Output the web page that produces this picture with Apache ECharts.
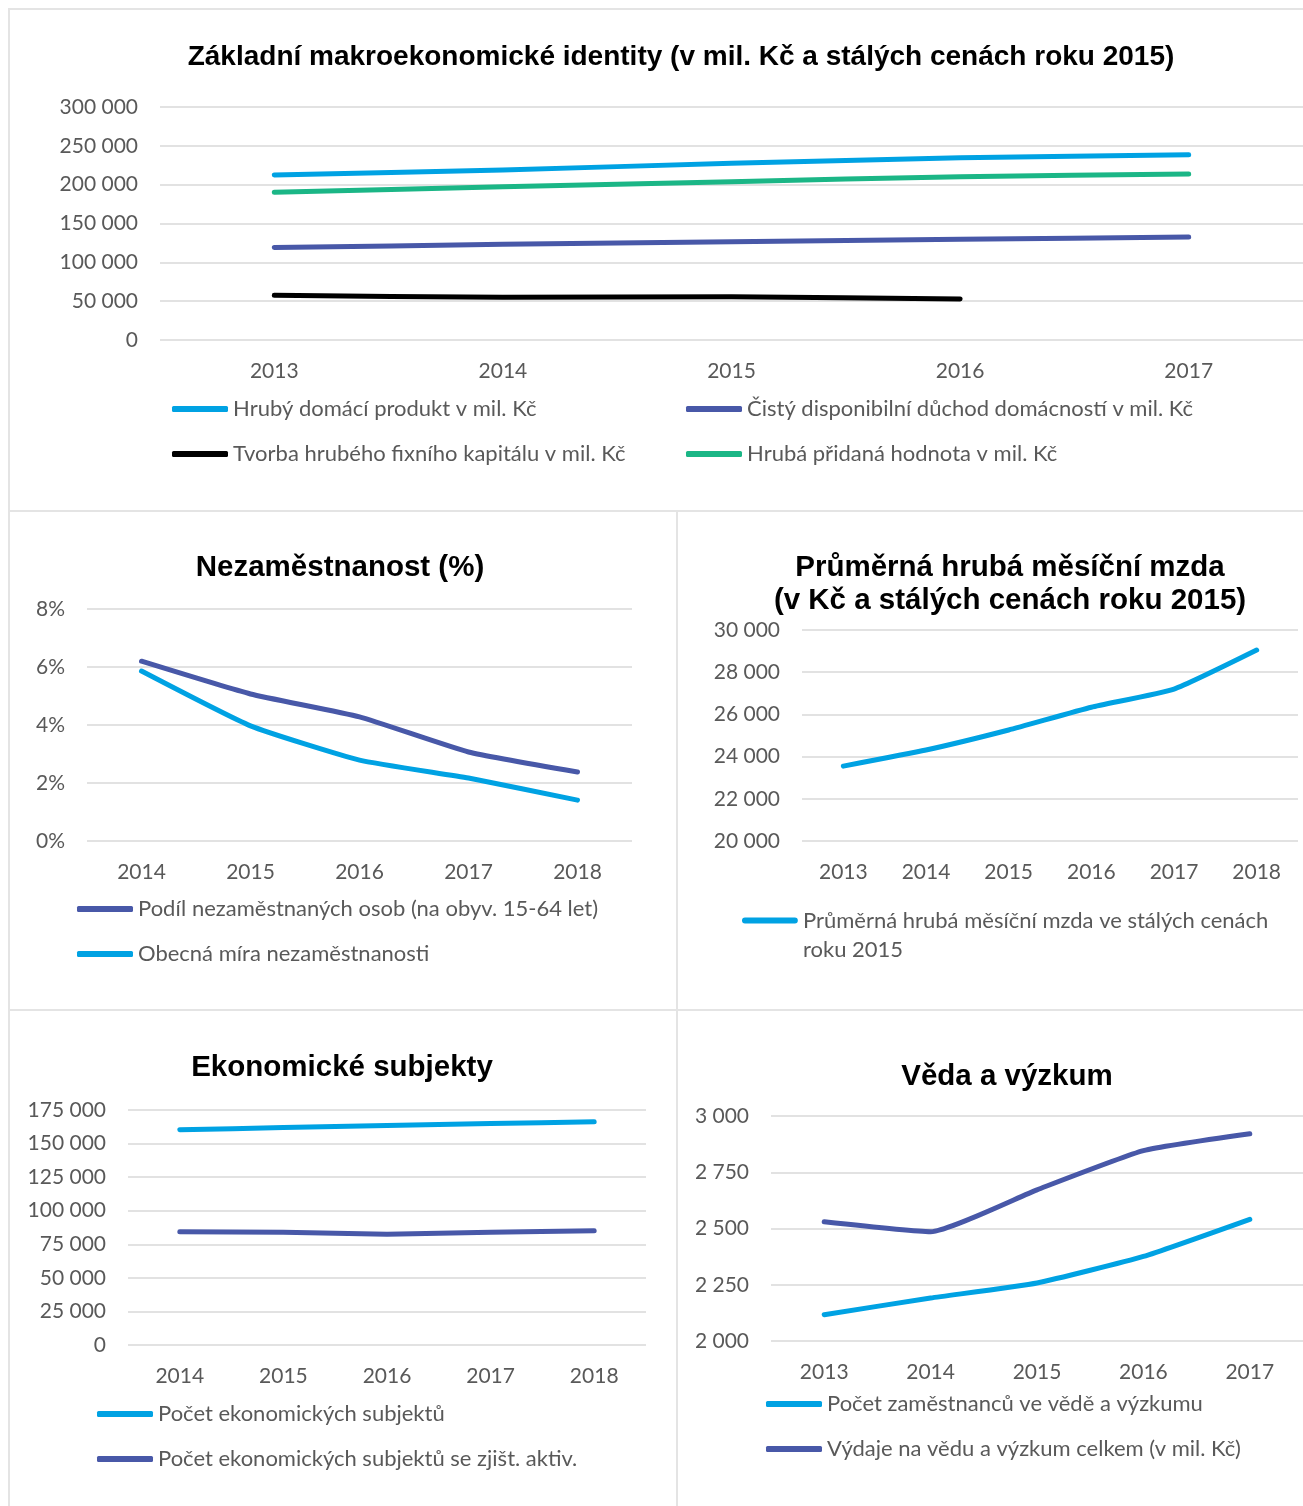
<!DOCTYPE html>
<html>
<head>
<meta charset="utf-8">
<script src="https://cdn.jsdelivr.net/npm/echarts@6/dist/echarts.min.js"></script>
<style>
  html, body { margin: 0; padding: 0; background: #fff; }
  #page { width: 1303px; height: 1506px; }
</style>
</head>
<body>
<div id="page"></div>
<script>
// --- data ---
const years1317 = ['2013', '2014', '2015', '2016', '2017'];
const years1418 = ['2014', '2015', '2016', '2017', '2018'];
const years1318 = ['2013', '2014', '2015', '2016', '2017', '2018'];

// Základní makroekonomické identity
const hdp = [212500, 219000, 227500, 234700, 238600];
const cistyDuchod = [119000, 123200, 126600, 129600, 132600];
const tvorbaKapitalu = [57500, 55000, 55800, 52800];
const pridanaHodnota = [190100, 197400, 203900, 210300, 213700];

// Nezaměstnanost (%)
const podilNezam = [6.2, 5.07, 4.28, 3.07, 2.38];
const obecnaMira = [5.86, 3.97, 2.79, 2.17, 1.41];

// Průměrná hrubá měsíční mzda
const mzda = [23550, 24310, 25260, 26340, 27200, 29050];

// Ekonomické subjekty
const pocetSubjektu = [160300, 161900, 163400, 164900, 166300];
const pocetAktivnich = [84400, 84000, 82500, 84000, 85100];

// Věda a výzkum
const zamestnanciVaV = [2117, 2191, 2258, 2376, 2541];
const vydajeVaV = [2530, 2486, 2672, 2846, 2921];

const LIGHT = '#00A2E3';
const PURPLE = '#4858A8';
const GREEN = '#1BB686';
const BLACK = '#000000';
const GREY = '#595959';
const FONT = 'Lato';

// thick line with rounded ends at the top of a taller box (for the 2-line legend)
const TOP_BAR_ICON = 'path://M3 0 H53 A3 3 0 0 1 53 6 H3 A3 3 0 0 1 3 0 Z M0 35 h0.1 v0.1 h-0.1 Z';

function fmt (v) {
    return String(v).replace(/\B(?=(\d{3})+(?!\d))/g, ' ');
}

function title (text, x, y, size) {
    return {
        text: text,
        left: x,
        top: y,
        textAlign: 'center',
        textStyle: {
            fontFamily: 'Liberation Sans',
            fontWeight: 'bold',
            fontSize: size,
            color: '#000',
            lineHeight: 33
        }
    };
}

function legend (name, x, y, extra) {
    return Object.assign({
        data: [name],
        left: x,
        top: y,
        icon: 'roundRect',
        itemWidth: 56,
        itemHeight: 6,
        itemGap: 0,
        selectedMode: false,
        textStyle: { fontFamily: FONT, fontSize: 22, color: GREY }
    }, extra || {});
}

function xAxis (idx, cats) {
    return {
        type: 'category',
        gridIndex: idx,
        data: cats,
        boundaryGap: true,
        axisLine: { show: false },
        axisTick: { show: false },
        axisLabel: { fontFamily: FONT, fontSize: 21, color: GREY, margin: 21 }
    };
}

function yAxis (idx, min, max, interval, formatter) {
    return {
        type: 'value',
        gridIndex: idx,
        min: min,
        max: max,
        interval: interval,
        axisLine: { show: false },
        axisTick: { show: false },
        splitLine: { lineStyle: { color: '#d9d9d9', width: 1.5 } },
        axisLabel: { fontFamily: FONT, fontSize: 21, color: GREY, margin: 22, formatter: formatter || fmt }
    };
}

function line (name, idx, data, color) {
    return {
        name: name,
        type: 'line',
        xAxisIndex: idx,
        yAxisIndex: idx,
        data: data,
        color: color,
        symbol: 'none',
        smooth: 0.15,
        lineStyle: { width: 5, color: color, cap: 'round', join: 'round' }
    };
}

const borderStyle = { stroke: '#e4e4e4', lineWidth: 2 };
function hline (x1, x2, y) {
    return { type: 'line', shape: { x1: x1, y1: y, x2: x2, y2: y }, style: borderStyle, silent: true };
}
function vline (x, y1, y2) {
    return { type: 'line', shape: { x1: x, y1: y1, x2: x, y2: y2 }, style: borderStyle, silent: true };
}

const chart = echarts.init(document.getElementById('page'));

const option = {
    animation: false,
    backgroundColor: '#fff',
    title: [
        title('Základní makroekonomické identity (v mil. Kč a stálých cenách roku 2015)', 676, 36, 28),
        title('Nezaměstnanost (%)', 335, 546, 29.5),
        title('Průměrná hrubá měsíční mzda\n(v Kč a stálých cenách roku 2015)', 1005, 546, 29.5),
        title('Ekonomické subjekty', 337, 1046, 29.5),
        title('Věda a výzkum', 1002, 1055, 29.5)
    ],
    legend: [
        legend('Hrubý domácí produkt v mil. Kč', 167, 393),
        legend('Tvorba hrubého fixního kapitálu v mil. Kč', 167, 438),
        legend('Čistý disponibilní důchod domácností v mil. Kč', 681, 393),
        legend('Hrubá přidaná hodnota v mil. Kč', 681, 438),
        legend('Podíl nezaměstnaných osob (na obyv. 15-64 let)', 72, 893),
        legend('Obecná míra nezaměstnanosti', 72, 938),
        legend('Průměrná hrubá měsíční mzda ve stálých cenách roku 2015', 737, 901, {
            icon: TOP_BAR_ICON,
            itemHeight: 35,
            formatter: function () { return 'Průměrná hrubá měsíční mzda ve stálých cenách\nroku 2015'; },
            textStyle: { fontFamily: FONT, fontSize: 22, color: GREY, lineHeight: 29 }
        }),
        legend('Počet ekonomických subjektů', 92, 1398),
        legend('Počet ekonomických subjektů se zjišt. aktiv.', 92, 1443),
        legend('Počet zaměstnanců ve vědě a výzkumu', 761, 1388),
        legend('Výdaje na vědu a výzkum celkem (v mil. Kč)', 761, 1433)
    ],
    grid: [
        { left: 160, top: 107, width: 1143, height: 233 },
        { left: 87, top: 609, width: 545, height: 232 },
        { left: 802, top: 630, width: 496, height: 211 },
        { left: 128, top: 1110, width: 518, height: 235 },
        { left: 771, top: 1116, width: 542, height: 225 }
    ],
    xAxis: [
        xAxis(0, years1317),
        xAxis(1, years1418),
        xAxis(2, years1318),
        xAxis(3, years1418),
        xAxis(4, years1317)
    ],
    yAxis: [
        yAxis(0, 0, 300000, 50000),
        yAxis(1, 0, 8, 2, '{value}%'),
        yAxis(2, 20000, 30000, 2000),
        yAxis(3, 0, 175000, 25000),
        yAxis(4, 2000, 3000, 250)
    ],
    series: [
        line('Hrubý domácí produkt v mil. Kč', 0, hdp, LIGHT),
        line('Čistý disponibilní důchod domácností v mil. Kč', 0, cistyDuchod, PURPLE),
        line('Tvorba hrubého fixního kapitálu v mil. Kč', 0, tvorbaKapitalu, BLACK),
        line('Hrubá přidaná hodnota v mil. Kč', 0, pridanaHodnota, GREEN),
        line('Podíl nezaměstnaných osob (na obyv. 15-64 let)', 1, podilNezam, PURPLE),
        line('Obecná míra nezaměstnanosti', 1, obecnaMira, LIGHT),
        line('Průměrná hrubá měsíční mzda ve stálých cenách roku 2015', 2, mzda, LIGHT),
        line('Počet ekonomických subjektů', 3, pocetSubjektu, LIGHT),
        line('Počet ekonomických subjektů se zjišt. aktiv.', 3, pocetAktivnich, PURPLE),
        line('Počet zaměstnanců ve vědě a výzkumu', 4, zamestnanciVaV, LIGHT),
        line('Výdaje na vědu a výzkum celkem (v mil. Kč)', 4, vydajeVaV, PURPLE)
    ],
    graphic: [
        hline(8, 1303, 9),
        vline(9, 9, 1506),
        hline(9, 1303, 511),
        hline(9, 1303, 1010),
        vline(677, 511, 1506)
    ]
};

chart.setOption(option);
</script>
</body>
</html>
